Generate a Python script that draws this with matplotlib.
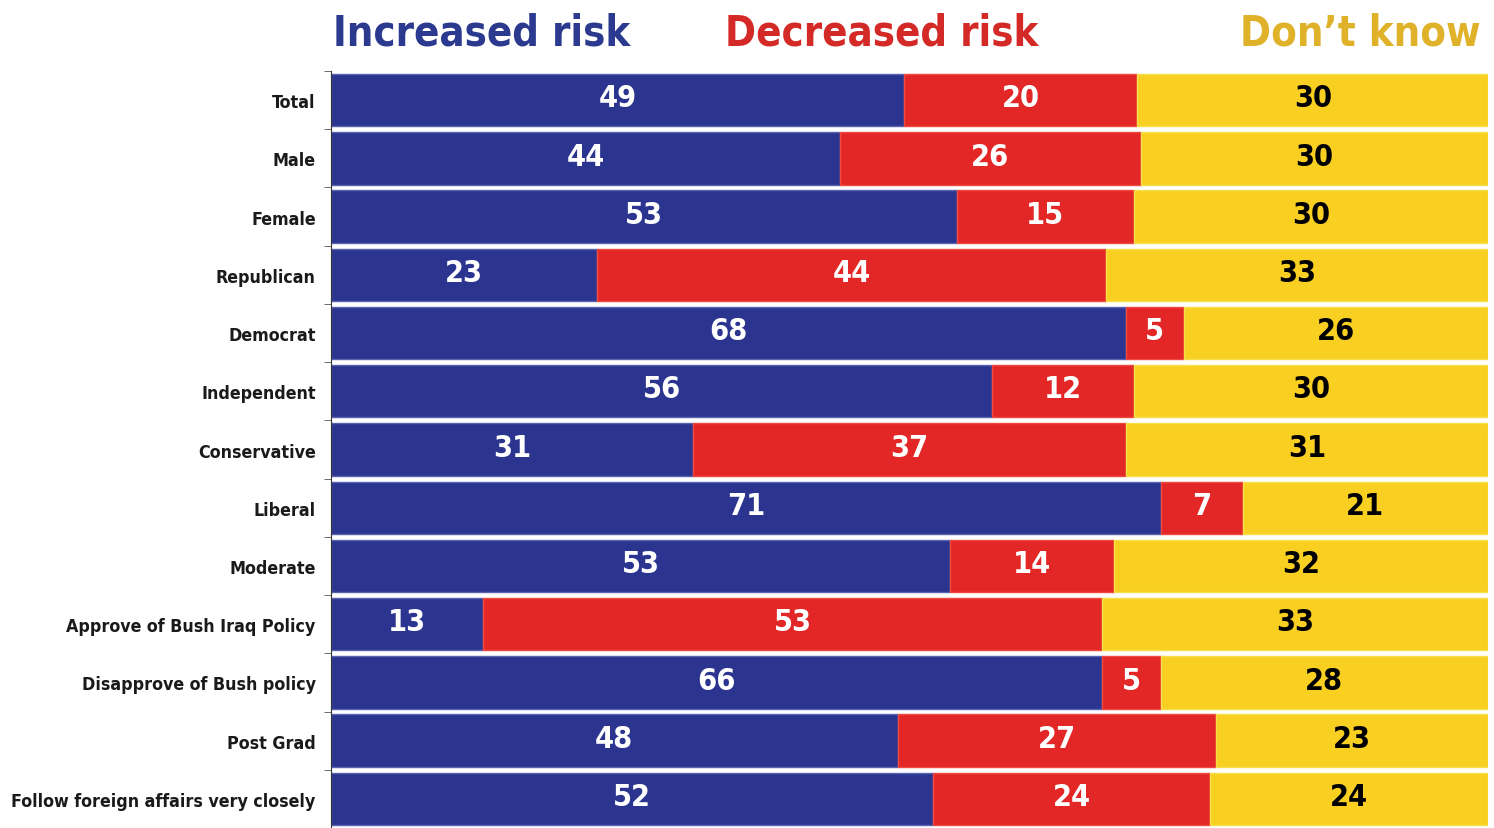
import matplotlib.pyplot as plt
from matplotlib import font_manager
import numpy as np

categories = ['Total', 'Male', 'Female', 'Republican', 'Democrat', 'Independent',
              'Conservative', 'Liberal', 'Moderate', 'Approve of Bush Iraq Policy',
              'Disapprove of Bush policy', 'Post Grad', 'Follow foreign affairs very closely']
increased = [49, 44, 53, 23, 68, 56, 31, 71, 53, 13, 66, 48, 52]
decreased = [20, 26, 15, 44, 5, 12, 37, 7, 14, 53, 5, 27, 24]
dont_know = [30, 30, 30, 33, 26, 30, 31, 21, 32, 33, 28, 23, 24]
series_names = ['Increased risk', 'Decreased risk', 'Don\u2019t know']

# pick a narrow bold font if there is one
names = set(f.name for f in font_manager.fontManager.ttflist)
if 'Liberation Sans Narrow' in names:
    fam, stretch = 'Liberation Sans Narrow', 'normal'
elif 'DejaVu Sans Condensed' in names:
    fam, stretch = 'DejaVu Sans Condensed', 'normal'
else:
    fam, stretch = 'DejaVu Sans', 'condensed'
plt.rcParams['font.family'] = [fam, 'DejaVu Sans']
plt.rcParams['font.stretch'] = stretch

blue = '#2b3590'
red = '#e32726'
yellow = '#f9d022'
title_cols = ['#2b3a8f', '#d42a27', '#dfb22a']

data = np.array([increased, decreased, dont_know], dtype=float)
pct = data / data.sum(axis=0) * 100

fig = plt.figure(figsize=(14.94, 8.29), dpi=100)
ax = fig.add_axes([331 / 1494, 0, (1488 - 331) / 1494, 1 - 72 / 829])

y = np.arange(len(categories))
left = np.zeros(len(categories))
cols = [blue, red, yellow]
edges = ['#5a64b0', '#f04a40', '#f5e04a']
txt_cols = ['white', 'white', 'black']
for i in range(3):
    ax.barh(y, pct[i], left=left, height=0.9, color=cols[i], edgecolor=edges[i], linewidth=1)
    for j in range(len(categories)):
        ax.text(left[j] + pct[i][j] / 2, y[j] - 0.04, '%d' % data[i][j], ha='center', va='center',
                color=txt_cols[i], fontsize=22, fontweight='bold')
    left += pct[i]

ax.set_xlim(0, 100)
ax.set_ylim(len(categories) - 0.5, -0.5)
ax.set_yticks(y)
ax.set_yticklabels(categories, fontsize=12.8, fontweight='bold', color='#1a1a1a')
ax.set_yticks(np.arange(len(categories) + 1) - 0.5, minor=True)
ax.tick_params(axis='y', which='major', length=0, pad=11)
ax.tick_params(axis='y', which='minor', length=5, color='#555555')
ax.set_xticks([])
for s in ['top', 'right', 'bottom']:
    ax.spines[s].set_visible(False)
ax.spines['left'].set_color('#333333')

title_x = [482, 882, 1360]
for name, c, xp in zip(series_names, title_cols, title_x):
    fig.text(xp / 1494, 1 - 33 / 829, name, ha='center', va='center', color=c,
             fontsize=30, fontweight='bold')

fig.savefig('out.png', dpi=100)
